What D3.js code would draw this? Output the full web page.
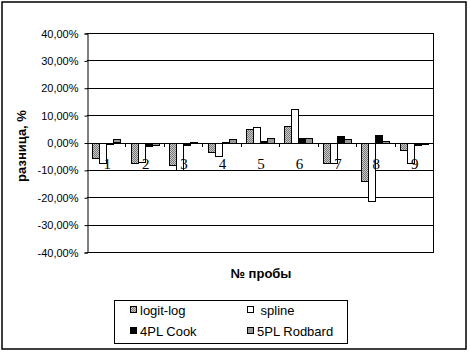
<!DOCTYPE html>
<html>
<head>
<meta charset="utf-8">
<script src="https://cdn.jsdelivr.net/npm/d3@7"></script>
<style>
    body { margin: 0; background: #fff; }
    #graph { width: 470px; height: 354px; }
</style>
</head>
<body>
<div id="graph"></div>
<script>
// chart data (percent)
var categories = ["1", "2", "3", "4", "5", "6", "7", "8", "9"];
var seriesNames = ["logit-log", "spline", "4PL Cook", "5PL Rodbard"];
var logitLog = [-5.3, -7.4, -8.1, -3.3, 5.0, 6.2, -7.2, -14.0, -2.4];
var spline = [-7.2, -6.8, -9.7, -4.9, 5.8, 12.3, -7.4, -21.3, -7.4];
var cook4PL = [-0.4, -1.0, -0.8, 0.1, 0.6, 1.7, 2.2, 2.6, -0.8];
var rodbard5PL = [1.1, -0.6, 0.3, 1.3, 1.7, 1.7, 1.4, 0.7, -0.2];
var yTicks = [-40, -30, -20, -10, 0, 10, 20, 30, 40];

function initial() {//main
    var svg = d3.select("#graph").append("svg")
        .attr("width", 470)
        .attr("height", 354);

    // dithered grey fill for logit-log
    var pat = svg.append("defs").append("pattern")
        .attr("id", "dither")
        .attr("width", 2).attr("height", 2)
        .attr("patternUnits", "userSpaceOnUse");
    pat.append("rect").attr("width", 2).attr("height", 2).attr("fill", "#c8c8c8");
    pat.append("rect").attr("width", 1).attr("height", 1).attr("fill", "#7a7a7a");
    pat.append("rect").attr("x", 1).attr("y", 1).attr("width", 1).attr("height", 1).attr("fill", "#7a7a7a");

    var fills = ["url(#dither)", "#ffffff", "#000000", "#999999"];
    var values = [logitLog, spline, cook4PL, rodbard5PL];

    // outer frame
    svg.append("rect")
        .attr("x", 2).attr("y", 2)
        .attr("width", 464).attr("height", 347)
        .attr("fill", "#fff")
        .attr("stroke", "#000")
        .attr("stroke-width", 1.5);

    var left = 87, right = 433, top = 33, bottom = 252;

    var x = d3.scaleBand().domain(categories).range([left, right]).padding(0);
    var xSub = d3.scaleBand().domain(d3.range(seriesNames.length))
        .range([0, x.bandwidth()])
        .paddingInner(0)
        .paddingOuter(0.74);
    var y = d3.scaleLinear().domain([-40, 40]).range([bottom, top]);

    var loc = d3.formatLocale({decimal: ",", thousands: " ", grouping: [3], currency: ["", ""], minus: "-"});
    var fmt = loc.format(".2f");

    // gridlines
    svg.append("g").selectAll("line")
        .data(yTicks)
        .enter()
        .append("line")
        .attrs({
            x1: left, x2: right,
            y1: function(d) {return Math.round(y(d)) + 0.5;},
            y2: function(d) {return Math.round(y(d)) + 0.5;},
            stroke: "#000"
        });

    // y axis
    var yAxis = svg.append("g")
        .attr("transform", "translate(" + (left + 0.5) + ",0.5)")
        .call(d3.axisLeft(y).tickValues(yTicks).tickSize(3).tickPadding(6)
            .tickFormat(function(d) {return fmt(d) + "%";}));
    yAxis.select(".domain").attr("stroke", "#000");
    yAxis.selectAll("text")
        .attr("font-family", "Liberation Sans, Arial, sans-serif")
        .attr("font-size", 11)
        .attr("fill", "#000");

    // plot frame right side
    svg.append("line")
        .attrs({x1: right + 0.5, x2: right + 0.5, y1: top, y2: bottom + 1, stroke: "#000"});

    // bars
    svg.append("g").selectAll("g")
        .data(values)
        .enter()
        .append("g")
        .attr("fill", function(d, i) {return fills[i];})
        .each(function(vals, s) {
            d3.select(this).selectAll("rect")
                .data(vals)
                .enter()
                .append("rect")
                .attrs({
                    x: function(d, i) {return Math.round(x(categories[i]) + xSub(s)) + 0.5;},
                    y: function(d) {return Math.round(y(Math.max(0, d))) + 0.5;},
                    width: Math.round(xSub.bandwidth()),
                    height: function(d) {return Math.max(1, Math.round(Math.abs(y(d) - y(0))));},
                    stroke: "#000",
                    "stroke-width": 1
                });
        });

    // category axis on the zero line
    var xAxis = svg.append("g")
        .attr("transform", "translate(1," + (Math.round(y(0)) + 0.5) + ")")
        .call(d3.axisBottom(x).tickSize(0).tickPadding(15));
    xAxis.select(".domain").remove();
    xAxis.selectAll("text")
        .attr("font-family", "Liberation Serif, Times New Roman, serif")
        .attr("font-size", 15)
        .attr("fill", "#000");

    // x ticks between categories
    svg.append("g").selectAll("line")
        .data(categories.slice(1))
        .enter()
        .append("line")
        .attrs({
            x1: function(d) {return Math.round(x(d)) + 0.5;},
            x2: function(d) {return Math.round(x(d)) + 0.5;},
            y1: Math.round(y(0)),
            y2: Math.round(y(0)) + 4,
            stroke: "#000"
        });

    // axis titles
    svg.append("text")
        .attr("transform", "translate(26,146) rotate(-90)")
        .attr("text-anchor", "middle")
        .attr("font-family", "Liberation Sans, Arial, sans-serif")
        .attr("font-weight", "bold")
        .attr("font-size", 13)
        .text("разница, %");

    svg.append("text")
        .attr("x", 261).attr("y", 278)
        .attr("text-anchor", "middle")
        .attr("font-family", "Liberation Sans, Arial, sans-serif")
        .attr("font-weight", "bold")
        .attr("font-size", 13)
        .text("№ пробы");

    // legend
    var legend = svg.append("g");
    legend.append("rect")
        .attrs({x: 114.5, y: 300.5, width: 233, height: 43, fill: "#fff", stroke: "#000"});
    var legPos = [[130, 310], [247, 310], [130, 331], [247, 331]];
    var legText = ["logit-log", " spline", "4PL Cook", "5PL Rodbard"];
    var items = legend.selectAll("g.item")
        .data(seriesNames)
        .enter()
        .append("g")
        .attr("class", "item")
        .attr("transform", function(d, i) {return "translate(" + legPos[i][0] + "," + legPos[i][1] + ")";});
    items.append("rect")
        .attrs({
            x: 0.5, y: -3.5, width: 6, height: 6,
            fill: function(d, i) {return fills[i];},
            stroke: "#000"
        });
    items.append("text")
        .attr("x", 10)
        .attr("dy", "0.36em")
        .attr("font-family", "Liberation Sans, Arial, sans-serif")
        .attr("font-size", 13)
        .attr("xml:space", "preserve")
        .style("white-space", "pre")
        .text(function(d, i) {return legText[i];});
}

// d3 v7 has no .attrs, add a tiny one
d3.selection.prototype.attrs = function(obj) {
    var sel = this;
    Object.keys(obj).forEach(function(k) {sel.attr(k, obj[k]);});
    return sel;
};

initial();
</script>
</body>
</html>
